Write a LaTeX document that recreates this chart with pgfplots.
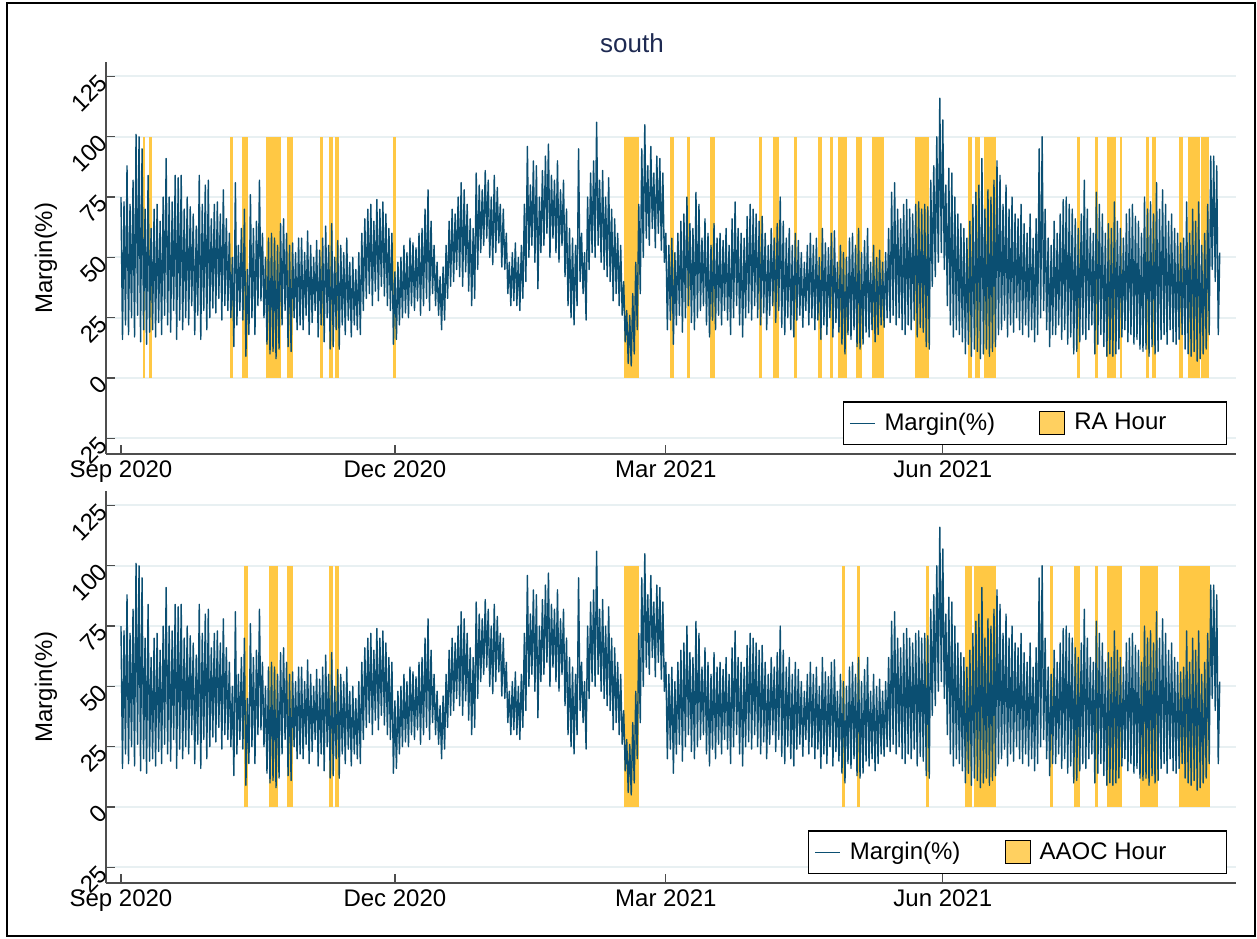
\documentclass[border=0pt]{standalone}
\usepackage{pgfplots}
\pgfplotsset{compat=1.18}
\usepackage{pgfplotstable}
\usepackage{fontspec}
\setmainfont{Liberation Sans}

\definecolor{lineblue}{HTML}{0B4F72}
\definecolor{baryellow}{HTML}{FFC844}
\definecolor{legyellow}{HTML}{FFD060}
\definecolor{gridc}{HTML}{E8F0F2}
\definecolor{spine}{HTML}{4D4D4D}
\definecolor{titlec}{HTML}{1E2A52}

% hourly margin, summarised as daily high / low (Sep 1 2020 = day 0)
\pgfplotstableread[row sep=\\]{
y\\
75\\16\\73\\22\\88\\18\\72\\25\\82\\17\\101\\26\\100\\15\\95\\20\\70\\14\\84\\19\\
62\\20\\70\\17\\72\\23\\65\\18\\75\\26\\91\\22\\75\\19\\73\\28\\84\\16\\83\\24\\
84\\20\\70\\25\\75\\22\\71\\30\\68\\18\\63\\26\\84\\16\\72\\28\\80\\20\\82\\25\\
66\\29\\72\\27\\73\\33\\68\\24\\78\\30\\66\\28\\60\\25\\50\\13\\81\\22\\55\\28\\
62\\24\\70\\9\\45\\18\\76\\25\\62\\18\\65\\30\\82\\32\\60\\25\\50\\14\\58\\10\\
60\\11\\58\\8\\55\\12\\64\\22\\66\\28\\60\\13\\55\\11\\56\\25\\52\\20\\58\\22\\
58\\20\\52\\26\\61\\18\\55\\23\\50\\28\\57\\17\\53\\22\\58\\15\\63\\25\\55\\12\\
64\\13\\50\\20\\57\\12\\55\\22\\52\\18\\58\\24\\48\\17\\50\\22\\45\\20\\52\\18\\
60\\28\\66\\33\\70\\35\\72\\30\\65\\36\\74\\32\\70\\38\\73\\34\\68\\30\\62\\28\\
60\\14\\44\\16\\48\\22\\50\\25\\55\\27\\52\\25\\58\\30\\56\\28\\54\\32\\60\\26\\
62\\30\\70\\33\\78\\28\\65\\35\\55\\30\\48\\26\\42\\20\\46\\24\\55\\33\\65\\38\\
70\\40\\68\\45\\75\\42\\81\\38\\78\\44\\72\\36\\66\\30\\62\\33\\85\\45\\80\\52\\
78\\55\\86\\58\\82\\50\\75\\47\\84\\52\\79\\56\\72\\46\\70\\45\\60\\35\\48\\30\\
52\\32\\56\\30\\50\\28\\55\\33\\72\\40\\96\\50\\80\\55\\90\\48\\88\\37\\75\\52\\
86\\55\\92\\60\\97\\50\\84\\58\\82\\52\\90\\48\\78\\55\\82\\42\\70\\30\\62\\25\\
58\\22\\55\\30\\95\\40\\60\\35\\52\\24\\75\\45\\85\\52\\90\\50\\106\\55\\82\\48\\
86\\45\\75\\42\\83\\40\\70\\32\\66\\35\\60\\30\\55\\26\\40\\15\\28\\6\\26\\5\\
35\\10\\48\\20\\72\\35\\95\\50\\105\\58\\88\\55\\96\\62\\85\\54\\92\\60\\91\\53\\
85\\48\\60\\20\\55\\24\\58\\14\\52\\22\\60\\26\\65\\19\\68\\25\\75\\30\\64\\23\\
62\\20\\77\\25\\72\\28\\58\\30\\66\\22\\60\\17\\55\\24\\64\\20\\58\\26\\60\\22\\
57\\28\\62\\24\\55\\18\\66\\25\\73\\30\\62\\22\\60\\17\\58\\25\\67\\27\\72\\24\\
70\\30\\68\\25\\65\\22\\67\\27\\60\\20\\55\\26\\62\\30\\58\\23\\64\\28\\75\\21\\
65\\18\\58\\25\\62\\20\\55\\17\\60\\24\\57\\26\\52\\21\\48\\28\\55\\22\\60\\25\\
55\\20\\58\\24\\50\\16\\62\\22\\56\\18\\54\\25\\60\\17\\61\\23\\48\\19\\55\\14\\
52\\10\\50\\18\\58\\16\\60\\20\\55\\13\\62\\12\\52\\14\\57\\19\\62\\17\\48\\20\\
55\\15\\50\\18\\53\\22\\48\\21\\52\\25\\62\\23\\77\\26\\81\\22\\70\\25\\66\\20\\
72\\18\\74\\22\\70\\20\\68\\24\\72\\17\\73\\21\\70\\19\\72\\13\\71\\12\\82\\38\\
88\\42\\100\\48\\116\\52\\107\\45\\80\\30\\87\\22\\85\\17\\75\\20\\68\\18\\64\\15\\
62\\10\\58\\14\\65\\9\\72\\12\\77\\11\\80\\8\\91\\10\\70\\12\\78\\9\\75\\11\\
82\\13\\90\\18\\84\\20\\72\\24\\80\\17\\70\\22\\75\\19\\68\\25\\66\\20\\72\\18\\
64\\22\\60\\17\\68\\20\\58\\15\\66\\18\\95\\25\\100\\28\\70\\20\\58\\13\\55\\18\\
65\\18\\60\\22\\68\\16\\74\\20\\75\\14\\72\\17\\70\\10\\66\\11\\62\\15\\68\\18\\
82\\16\\70\\20\\62\\22\\60\\10\\77\\14\\72\\18\\68\\13\\60\\9\\64\\10\\62\\9\\
73\\10\\65\\12\\62\\17\\58\\20\\68\\15\\70\\18\\72\\14\\67\\16\\65\\12\\60\\11\\
75\\12\\70\\9\\73\\13\\68\\10\\81\\11\\70\\16\\78\\18\\72\\14\\65\\20\\68\\15\\
62\\14\\60\\16\\56\\18\\58\\12\\73\\10\\60\\9\\70\\11\\65\\7\\73\\8\\55\\10\\
60\\12\\72\\18\\92\\45\\92\\40\\88\\18\\52\\
}\margindata

\newcommand{\yb}[2]{\addplot[fill=baryellow, draw=none, forget plot] coordinates {(#1,0) (#1,100) (#2,100) (#2,0)} -- cycle;}

\pgfplotsset{
  panel/.style={
    width=565pt, height=196pt, scale only axis,
    xmin=-4.98, xmax=370.4, ymin=-31.5, ymax=131,
    axis x line*=bottom, axis y line*=left,
    axis line style={-, line width=0.8pt, draw=spine},
    xtick={0,91,181,273},
    xticklabels={Sep 2020, Dec 2020, Mar 2021, Jun 2021},
    ytick={-25,0,25,50,75,100,125},
    tick align=inside,
    major tick length=4.5pt,
    tick style={line width=0.6pt, draw=spine},
    ymajorgrids, grid style={line width=1pt, draw=gridc},
    /pgf/number format/assume math mode=true,
    tick label style={font=\fontsize{12}{14}\selectfont, text=black},
    yticklabel style={rotate=45, anchor=east, inner sep=1.5pt},
    ylabel={Margin(\%)},
    ylabel style={at={(axis description cs:-0.0531,0.5)}, anchor=center, font=\fontsize{12}{14}\selectfont},
    legend columns=2,
    legend style={at={(axis description cs:1,0)}, anchor=south east, xshift=-4.5pt, yshift=4.5pt,
      draw=black, line width=0.6pt, font=\fontsize{12}{14}\selectfont,
      inner xsep=3pt, inner ysep=3.5pt,
      /tikz/every even column/.append style={column sep=20pt}},
    legend cell align=left,
  }
}

\begin{document}
\begin{tikzpicture}[x=1pt,y=1pt]
\path[use as bounding box] (0,0) rectangle (628.5,469);
\draw[line width=1pt] (3.25,1.25) rectangle (627.25,467.25);
\node[font=\fontsize{13}{15}\selectfont, text=titlec] at (316,447.5) {south};

\begin{axis}[panel, at={(53pt,242pt)}, anchor=south west]
\addlegendimage{legend image code/.code={\draw[draw=lineblue, line width=0.7pt] (1pt,0pt) -- (13.5pt,0pt); \path (16pt,0pt);}}
\addlegendentry{Margin(\%)}
\addlegendimage{legend image code/.code={\fill[fill=legyellow] (0pt,-5.75pt) rectangle (12.5pt,5.75pt); \path (15pt,0pt);}}
\addlegendentry{RA Hour\hspace{25pt}\mbox{}}
\yb{7.2}{8.1}\yb{9.2}{10.2}\yb{36.2}{37.1}\yb{40.1}{42.2}\yb{48.2}{53.0}
\yb{55.1}{57.2}\yb{66.1}{67.1}\yb{69.1}{70.3}\yb{71.1}{72.3}\yb{90.4}{91.3}
\yb{167.1}{172.1}\yb{182.5}{183.8}\yb{188}{189}\yb{195.7}{197.3}\yb{212}{213}
\yb{216.7}{218.5}\yb{223.5}{224.6}\yb{231.6}{232.8}\yb{235.5}{236.4}\yb{238.3}{241.3}
\yb{244.2}{246.3}\yb{249.5}{253.5}\yb{263.6}{268.5}\yb{281.5}{282.6}\yb{283.7}{285.4}
\yb{286.7}{290.6}\yb{317.6}{318.5}\yb{323.6}{324.5}\yb{327.7}{330.6}\yb{331.7}{332.4}
\yb{340.5}{341.4}\yb{342.6}{343.7}\yb{351.6}{352.7}\yb{354.6}{358.5}\yb{358.8}{361.5}
\addplot[draw=lineblue, line width=0.7pt, line join=round, forget plot] table[x expr=\coordindex/2, y=y] {\margindata};
\end{axis}

\begin{axis}[panel, at={(53pt,27.5pt)}, anchor=south west]
\addlegendimage{legend image code/.code={\draw[draw=lineblue, line width=0.7pt] (1pt,0pt) -- (13.5pt,0pt); \path (16pt,0pt);}}
\addlegendentry{Margin(\%)}
\addlegendimage{legend image code/.code={\fill[fill=legyellow] (0pt,-5.75pt) rectangle (12.5pt,5.75pt); \path (15pt,0pt);}}
\addlegendentry{AAOC Hour\hspace{25pt}\mbox{}}
\yb{41}{42.2}\yb{49.2}{52.3}\yb{55.1}{57.2}\yb{69.1}{70.3}\yb{71.1}{72.3}
\yb{167.1}{172.1}\yb{239.5}{240.5}\yb{244.5}{245.5}\yb{267.4}{268.4}\yb{280.5}{282.6}
\yb{283.4}{290.6}\yb{308.6}{309.5}\yb{316.7}{318.5}\yb{323.5}{324.6}\yb{327.6}{332.6}
\yb{338.6}{344.5}\yb{351.5}{361.7}
\addplot[draw=lineblue, line width=0.7pt, line join=round, forget plot] table[x expr=\coordindex/2, y=y] {\margindata};
\end{axis}
\end{tikzpicture}
\end{document}
